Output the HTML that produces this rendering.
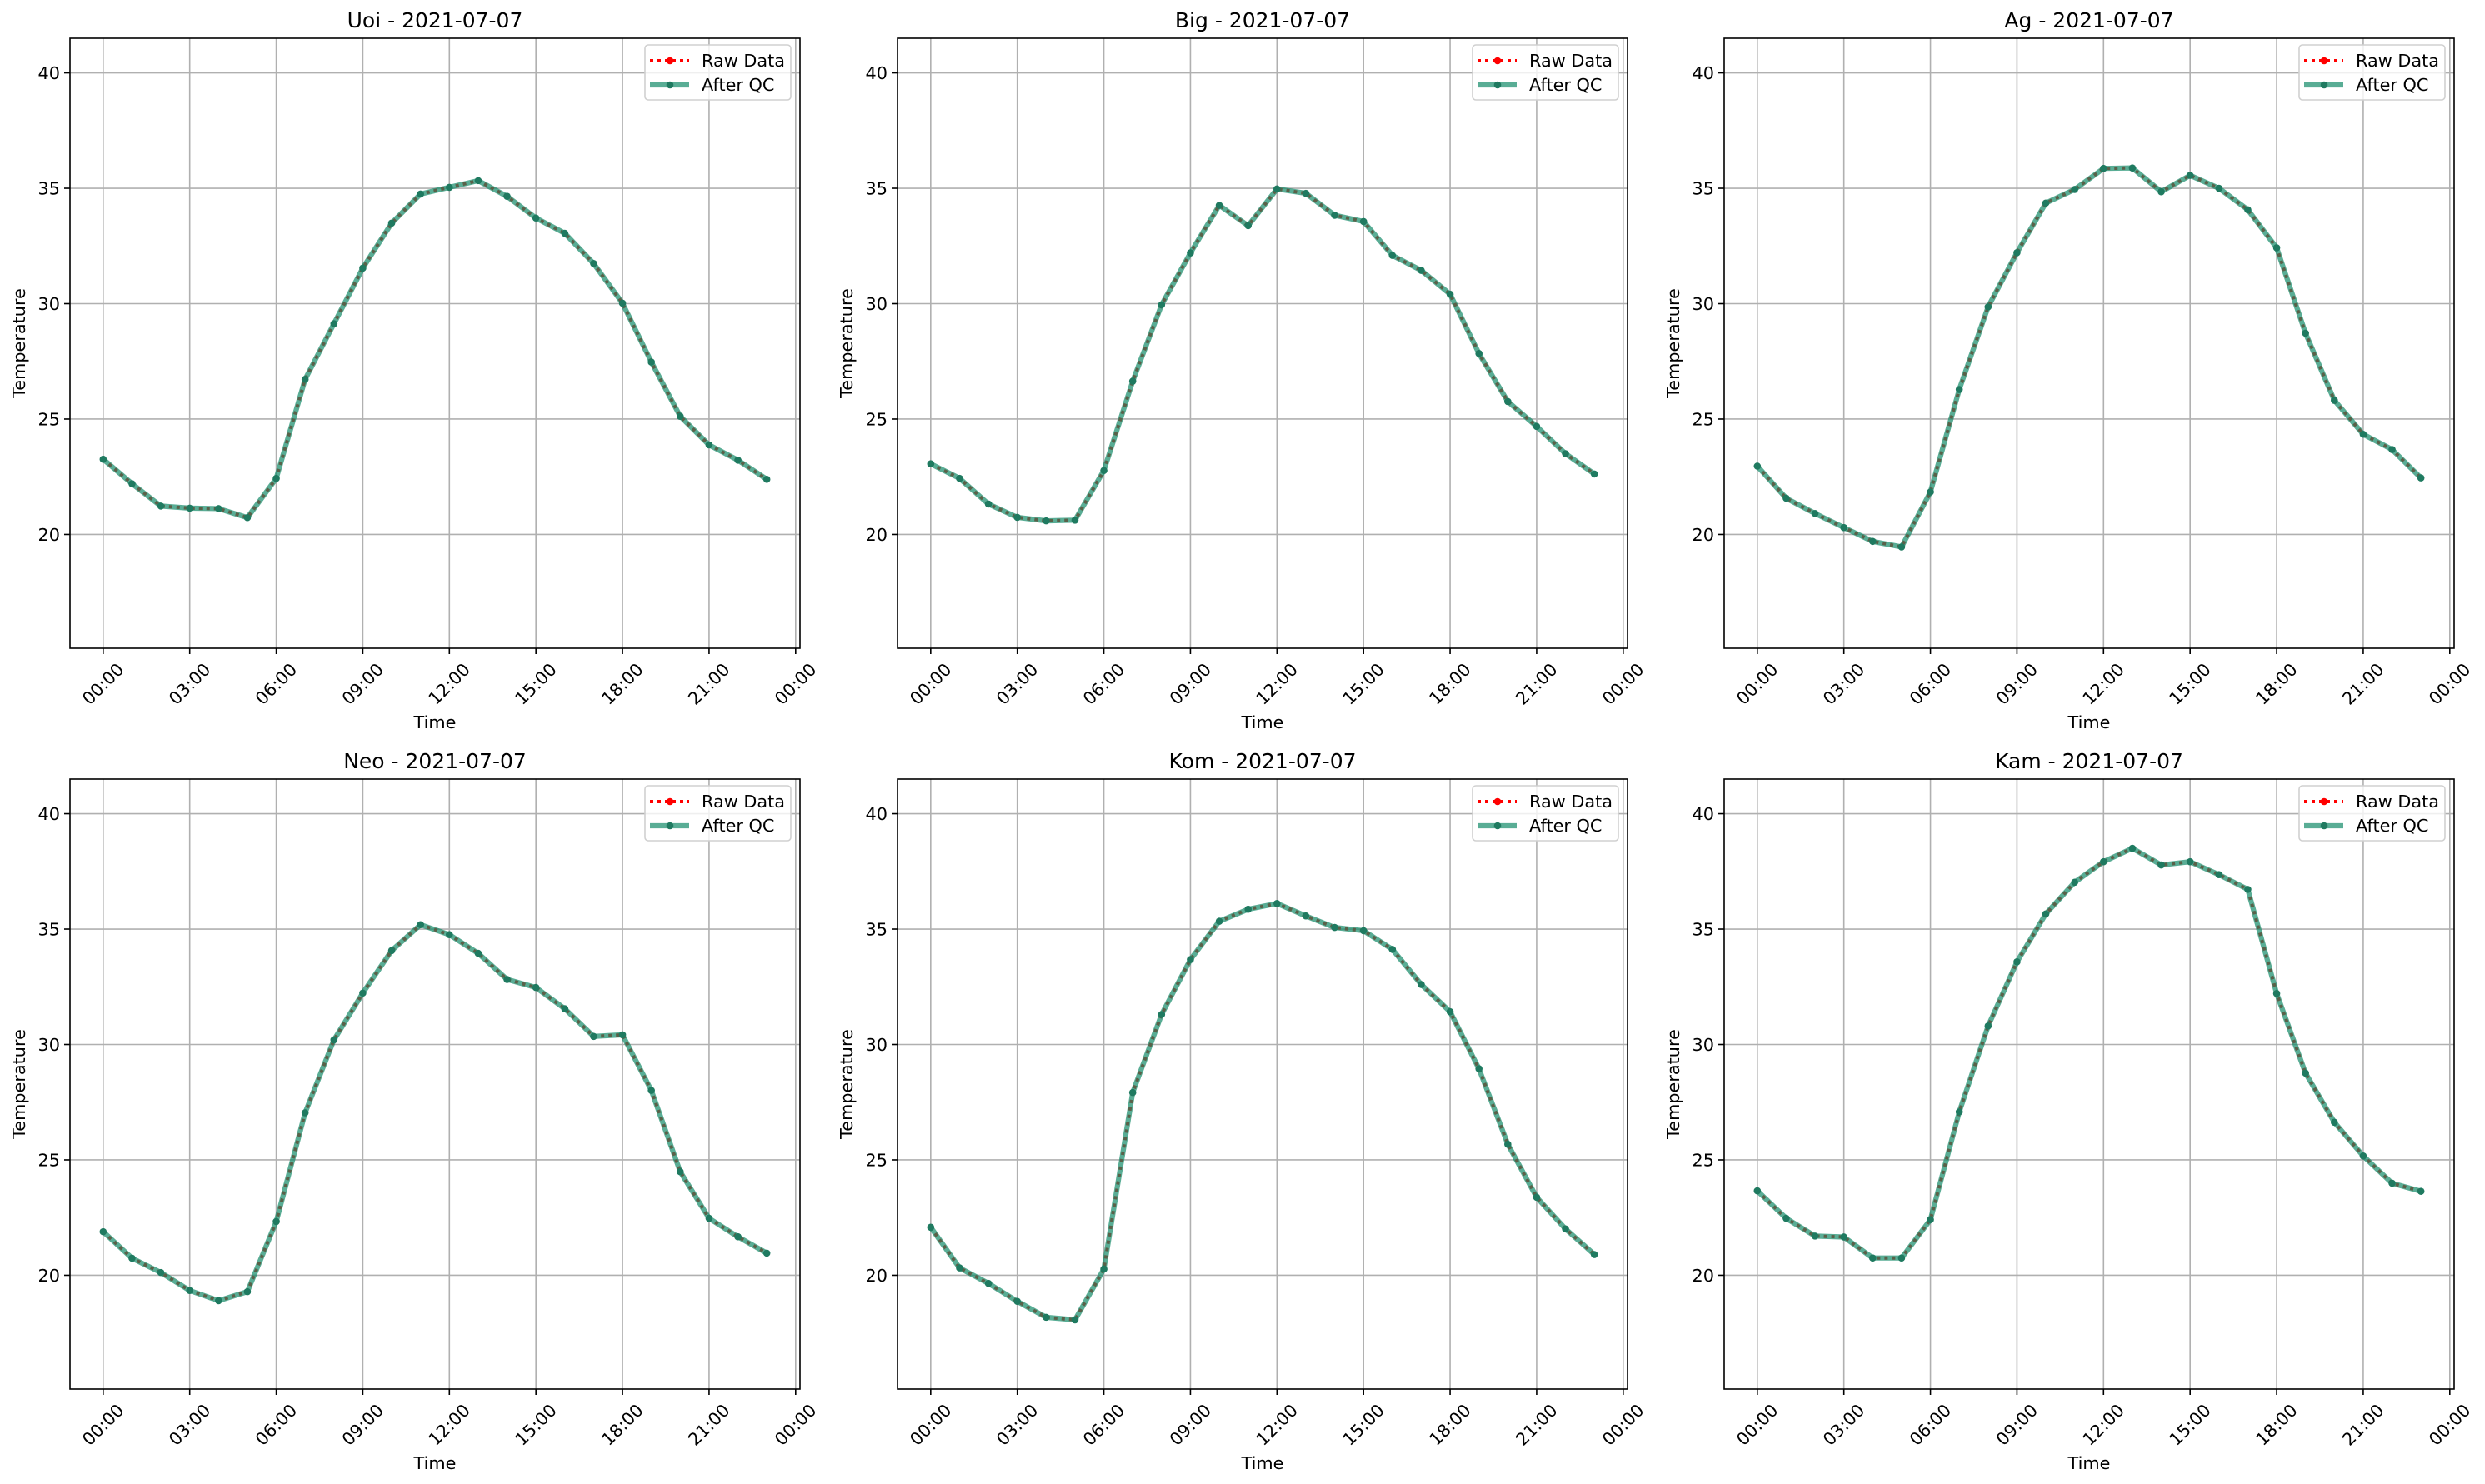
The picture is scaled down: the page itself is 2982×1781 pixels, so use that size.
<!DOCTYPE html>
<html><head><meta charset="utf-8"><style>
html,body{margin:0;padding:0;background:#fff;}
svg{display:block;font-family:"DejaVu Sans","Liberation Sans",sans-serif;}
</style></head><body>
<svg id="fig" width="2982" height="1781" viewBox="0 0 2982 1781" xmlns="http://www.w3.org/2000/svg"></svg>
<script>
const stations = ["Uoi","Big","Ag","Neo","Kom","Kam"];
const dateLabel = "2021-07-07";
const hours = [0,1,2,3,4,5,6,7,8,9,10,11,12,13,14,15,16,17,18,19,20,21,22,23];
const tickHours = [0,3,6,9,12,15,18,21,24];
const tickLabels = ["00:00","03:00","06:00","09:00","12:00","15:00","18:00","21:00","00:00"];
const yTicks = [20,25,30,35,40];
const uoi = [23.26,22.2,21.23,21.14,21.12,20.73,22.43,26.72,29.13,31.54,33.49,34.75,35.04,35.33,34.65,33.71,33.05,31.74,30.02,27.47,25.12,23.88,23.22,22.39];
const big = [23.06,22.43,21.32,20.74,20.59,20.62,22.77,26.64,29.95,32.2,34.26,33.38,34.97,34.78,33.83,33.56,32.09,31.44,30.41,27.84,25.76,24.68,23.5,22.62];
const ag = [22.96,21.57,20.91,20.3,19.7,19.46,21.84,26.28,29.86,32.21,34.36,34.95,35.86,35.88,34.85,35.56,35.0,34.07,32.42,28.72,25.81,24.34,23.68,22.45];
const neo = [21.89,20.74,20.12,19.34,18.9,19.29,22.33,27.04,30.2,32.23,34.07,35.19,34.76,33.95,32.82,32.47,31.55,30.35,30.42,28.01,24.49,22.47,21.67,20.96];
const kom = [22.08,20.32,19.65,18.87,18.18,18.07,20.27,27.92,31.3,33.68,35.34,35.86,36.11,35.57,35.07,34.93,34.12,32.6,31.42,28.95,25.68,23.38,22.01,20.9];
const kam = [23.66,22.47,21.7,21.66,20.75,20.75,22.41,27.08,30.8,33.58,35.66,37.03,37.92,38.5,37.78,37.92,37.36,36.72,32.21,28.76,26.63,25.17,23.99,23.64];
const series = [uoi,big,ag,neo,kom,kam];

const NS="http://www.w3.org/2000/svg";
const svg=document.getElementById('fig');
function mk(tag,attrs,parent){const e=document.createElementNS(NS,tag);for(const k in attrs)e.setAttribute(k,attrs[k]);(parent||svg).appendChild(e);return e;}

const all=[].concat(...series);
const yMin=Math.min(...all)-3, yMax=Math.max(...all)+3;
const xMin=-1.15, xMax=24.15;
const lefts=[84,1077,2069], tops=[46,935], W=876, H=732;

series.forEach((vals,i)=>{
  const L=lefts[i%3], T=tops[Math.floor(i/3)];
  const xs=h=>L+(h-xMin)/(xMax-xMin)*W;
  const ys=v=>T+H-(v-yMin)/(yMax-yMin)*H;
  const g=mk('g',{});
  
  
  tickHours.forEach((h,k)=>{
    const l=mk('line',{x1:xs(h),x2:xs(h),y1:T,y2:T+H,stroke:'#b0b0b0','stroke-width':1.6},g);
    
    
    const tk=mk('line',{x1:xs(h),x2:xs(h),y1:T+H,y2:T+H+7,stroke:'#000','stroke-width':1.6},g);
    
    
    const cx=xs(h), cy=T+H+43;
    const t=mk('text',{x:cx,y:cy+7,'font-size':20.8,'text-anchor':'middle',transform:`rotate(-45 ${cx} ${cy})`},g);
    t.textContent=tickLabels[k];
    
    
  });
  yTicks.forEach(v=>{
    const l=mk('line',{x1:L,x2:L+W,y1:ys(v),y2:ys(v),stroke:'#b0b0b0','stroke-width':1.6},g);
    
    
    const tk=mk('line',{x1:L-7,x2:L,y1:ys(v),y2:ys(v),stroke:'#000','stroke-width':1.6},g);
    
    
    const t=mk('text',{x:L-12,y:ys(v)+7.5,'font-size':20.8,'text-anchor':'end'},g);
    t.textContent=v;
    
    
  });
  const pts=hours.map((h,k)=>xs(h)+','+ys(vals[k])).join(' ');
  const raw=mk('polyline',{points:pts,fill:'none',stroke:'#ff0000','stroke-width':4,'stroke-dasharray':'4,5'},g);
  
  
  const qc=mk('polyline',{points:pts,fill:'none',stroke:'#138a68','stroke-width':6.2,'stroke-opacity':0.7,'stroke-linejoin':'round'},g);
  
  
  hours.forEach((h,k)=>{
    const c=mk('circle',{cx:xs(h),cy:ys(vals[k]),r:4.3,fill:'#1f7a60'},g);
    
    
  });
  const sp=mk('rect',{x:L,y:T,width:W,height:H,fill:'none',stroke:'#000','stroke-width':1.6},g);
  
  
  const ti=mk('text',{x:L+W/2,y:T-13,'font-size':25,'text-anchor':'middle'},g);
  ti.textContent=stations[i]+' - '+dateLabel;
  
  
  const xl=mk('text',{x:L+W/2,y:T+H+96,'font-size':20.8,'text-anchor':'middle'},g);
  xl.textContent='Time';
  
  
  const yx=L-54, yy=T+H/2;
  const yl=mk('text',{x:yx,y:yy,'font-size':20.8,'text-anchor':'middle',transform:`rotate(-90 ${yx} ${yy})`},g);
  yl.textContent='Temperature';
  
  
  const R=L+W;
  const lg=mk('g',{},g);
  
  
  mk('rect',{x:R-186,y:T+8,width:175,height:66,rx:4,fill:'#fff','fill-opacity':0.8,stroke:'#d0d0d0','stroke-width':1.6},lg);
  mk('line',{x1:R-180,x2:R-133,y1:T+27,y2:T+27,stroke:'#ff0000','stroke-width':4,'stroke-dasharray':'4,5'},lg);
  mk('circle',{cx:R-156,cy:T+27,r:4.3,fill:'#ff0000'},lg);
  const t1=mk('text',{x:R-118,y:T+34,'font-size':20.8},lg);
  t1.textContent='Raw Data';
  
  
  mk('line',{x1:R-180,x2:R-133,y1:T+56,y2:T+56,stroke:'#138a68','stroke-width':6.2,'stroke-opacity':0.7},lg);
  mk('circle',{cx:R-156,cy:T+56,r:4.3,fill:'#1f7a60'},lg);
  const t2=mk('text',{x:R-118,y:T+63,'font-size':20.8},lg);
  t2.textContent='After QC';
  
  
});
</script>
</body></html>
